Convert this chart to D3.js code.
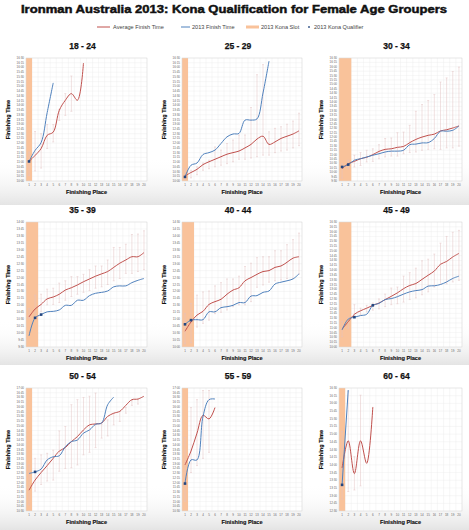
<!DOCTYPE html>
<html lang="en">
<head>
  <meta charset="UTF-8">
  <title>Ironman Australia 2013: Kona Qualification for Female Age Groupers</title>
  <script src="https://d3js.org/d3.v7.min.js"></script>
  <style>
    body { margin: 0; background: #fff; font-family: 'Liberation Sans', Arial, sans-serif; }
    svg { display: block; }
    .tick-label { font-size: 3px; fill: #666; }
    .axis-title { font-size: 5.6px; font-weight: bold; fill: #111; stroke: #111; stroke-width: 0.15px; }
    .panel-title { font-size: 8.5px; font-weight: bold; fill: #111; stroke: #111; stroke-width: 0.25px; }
  </style>
</head>
<body>
  <svg id="chart" width="469" height="530"></svg>

  <script>
    // Age groups and Kona slots per group
    const ageGroups = ["18 - 24", "25 - 29", "30 - 34", "35 - 39", "40 - 44", "45 - 49", "50 - 54", "55 - 59", "60 - 64"];
    const konaSlots = [1, 1, 2, 2, 2, 2, 1, 1, 1];
    const qualifierPlaces = [[1], [1], [1, 2], [2, 3], [1, 2], [3, 6], [2], [1], [1]];

    // y axis range per panel (finish time in minutes)
    const yMin = [600, 600, 570, 570, 600, 600, 630, 630, 750];
    const yMax = [990, 990, 990, 840, 870, 990, 1020, 1020, 990];

    // 2013 finish times by place (minutes)
    const finish2013 = [
      [662, 697, 722, 817, 911],
      [613, 650, 657, 684, 690, 698, 719, 740, 749, 751, 793, 793, 797, 879, 980],
      [618, 626, 641, 646, 652, 658, 663, 669, 672, 672, 675, 694, 696, 700, 701, 715, 740, 740, 743, 758],
      [594, 633, 640, 646, 647, 650, 660, 660, 671, 671, 681, 686, 688, 691, 700, 702, 702, 709, 714, 718],
      [649, 658, 659, 659, 676, 676, 685, 687, 690, 696, 696, 710, 711, 718, 721, 736, 740, 743, 747, 758],
      [653, 687, 693, 698, 702, 730, 736, 748, 751, 757, 765, 772, 776, 779, 790, 791, 795, 803, 814, 821],
      [749, 754, 763, 792, 802, 805, 834, 850, 855, 877, 887, 905, 909, 967, 991],
      [717, 792, 792, 930, 983, 985],
      [801, 986]
    ];

    // average finish times by place (minutes)
    const avgFinish = [
      [662, 681, 703, 745, 755, 824, 856, 877, 856, 974],
      [616, 627, 637, 652, 661, 669, 677, 685, 690, 695, 705, 716, 733, 742, 716, 724, 735, 742, 749, 759],
      [612, 629, 637, 646, 651, 660, 671, 678, 680, 685, 688, 701, 712, 720, 726, 730, 741, 745, 751, 758],
      [635, 652, 662, 674, 678, 684, 693, 698, 704, 711, 717, 723, 728, 733, 742, 751, 758, 765, 765, 774],
      [634, 654, 669, 677, 692, 698, 703, 714, 723, 728, 743, 750, 757, 763, 765, 772, 775, 783, 792, 795],
      [656, 679, 702, 713, 721, 730, 737, 748, 758, 769, 782, 792, 798, 811, 824, 837, 858, 867, 881, 892],
      [696, 728, 752, 774, 797, 820, 831, 850, 866, 887, 903, 906, 909, 930, 940, 946, 965, 983, 985, 994],
      [776, 820, 877, 933, 922, 958],
      [834, 887, 823, 887, 843, 953]
    ];

    // min / max of past finish times by place (minutes)
    const rangeHigh = [
      [692, 757, 750, 779, 779, 827, 877, 933],
      [639, 634, 645, 657, 666, 708, 698, 719, 730, 746, 746, 833, 937, 969, 756, 767, 772, 780, 790, 815],
      [629, 641, 658, 667, 675, 680, 694, 715, 717, 735, 737, 760, 808, 831, 845, 865, 908, 922, 944, 959],
      [653, 682, 684, 695, 697, 708, 713, 722, 722, 727, 737, 745, 745, 758, 785, 785, 792, 813, 814, 821],
      [672, 694, 712, 719, 721, 732, 739, 747, 747, 753, 774, 781, 793, 795, 795, 808, 808, 821, 832, 846],
      [679, 692, 732, 721, 730, 737, 750, 765, 784, 787, 821, 832, 846, 869, 874, 890, 924, 945, 958, 964],
      [776, 797, 808, 813, 823, 884, 898, 967, 983, 990, 994, 1004, 905, 919, 940, 946, 958, 980, 983],
      [863, 958, 983, 1012, 1012],
      [905, 984, 856, 976]
    ];
    const rangeLow = [
      [618, 632, 641, 703, 724, 792, 808, 821],
      [605, 610, 620, 634, 639, 645, 650, 655, 661, 669, 669, 673, 677, 682, 682, 690, 695, 698, 705, 712],
      [580, 612, 618, 623, 635, 637, 646, 652, 655, 655, 663, 667, 669, 675, 678, 680, 678, 683, 683, 689],
      [632, 635, 647, 661, 662, 666, 671, 679, 684, 688, 692, 697, 700, 705, 713, 718, 729, 729, 733, 737],
      [607, 609, 643, 651, 658, 672, 675, 680, 687, 691, 691, 698, 729, 734, 740, 743, 745, 748, 748, 757],
      [632, 658, 695, 700, 709, 715, 719, 726, 732, 735, 740, 748, 753, 763, 772, 787, 795, 797, 803, 808],
      [650, 693, 714, 725, 728, 756, 765, 767, 776, 808, 816, 831, 861, 868, 903, 914, 940, 965, 969],
      [661, 752, 774, 797, 816],
      [773, 788, 791, 799]
    ];

    const places = d3.range(1, 21);

    const red = "#c0504d", blue = "#4f81bd", slotColor = "#f9c29a", dotColor = "#23467f";

    const svg = d3.select("#chart");
    const defs = svg.append("defs");

    const grad = defs.append("linearGradient")
      .attr("id", "cellShade").attr("x1", 0).attr("y1", 0).attr("x2", 0).attr("y2", 1);
    grad.append("stop").attr("offset", "0%").attr("stop-color", "#fff").attr("stop-opacity", 0);
    grad.append("stop").attr("offset", "100%").attr("stop-color", "#e4e4e4").attr("stop-opacity", 1);

    // layout of the 3 x 3 grid
    const cellX = [0, 155, 310], cellW = [155, 155, 159];
    const cellY = [35, 205, 365], cellH = [170, 160, 165];
    const plotLeft = [26, 182, 339], plotWidth = [121, 120, 123];
    const plotTop = [58, 222, 388], plotHeight = [123, 125, 123];

    const fmt = m => Math.floor(m / 60) + ":" + d3.format("02d")(m % 60);

    // main title
    svg.append("text")
      .attr("x", 234).attr("y", 13)
      .attr("text-anchor", "middle")
      .attr("textLength", 426).attr("lengthAdjust", "spacingAndGlyphs")
      .style("font-size", "10.5px").style("font-weight", "900").style("fill", "#111")
      .style("stroke", "#111").style("stroke-width", "0.45px")
      .text("Ironman Australia 2013: Kona Qualification for Female Age Groupers");

    // legend
    const legend = svg.append("g").style("font-size", "5.6px").style("fill", "#444");
    legend.append("line").attr("x1", 97).attr("x2", 110).attr("y1", 27).attr("y2", 27)
      .attr("stroke", red).attr("stroke-width", 1);
    legend.append("text").attr("x", 113).attr("y", 29).text("Average Finish Time");
    legend.append("line").attr("x1", 181).attr("x2", 190).attr("y1", 27).attr("y2", 27)
      .attr("stroke", blue).attr("stroke-width", 1);
    legend.append("text").attr("x", 192).attr("y", 29).text("2013 Finish Time");
    legend.append("rect").attr("x", 246).attr("y", 25.5).attr("width", 13).attr("height", 3)
      .attr("fill", slotColor);
    legend.append("text").attr("x", 261).attr("y", 29).text("2013 Kona Slot");
    legend.append("rect").attr("x", 308.2).attr("y", 26.2).attr("width", 1.6).attr("height", 1.6)
      .attr("fill", dotColor);
    legend.append("text").attr("x", 314).attr("y", 29).text("2013 Kona Qualifier");

    ageGroups.forEach((group, i) => {
      const col = i % 3, row = Math.floor(i / 3);
      const L = plotLeft[col], W = plotWidth[col], T = plotTop[row], H = plotHeight[row];

      const g = svg.append("g");

      // soft shading at the foot of each cell
      g.append("rect")
        .attr("x", cellX[col]).attr("y", cellY[row] + cellH[row] * 0.72)
        .attr("width", cellW[col]).attr("height", cellH[row] * 0.28)
        .attr("fill", "url(#cellShade)");

      const x = d3.scaleLinear().domain([0.5, 20.5]).range([L, L + W]);
      const y = d3.scaleLinear().domain([yMin[i], yMax[i]]).range([T + H, T]);
      const yTicks = d3.range(yMin[i], yMax[i] + 1, 15);

      g.append("rect").attr("x", L).attr("y", T).attr("width", W).attr("height", H).attr("fill", "#fff");

      // grid
      g.selectAll(".hgrid").data(yTicks).enter().append("line")
        .attr("x1", L).attr("x2", L + W)
        .attr("y1", d => y(d)).attr("y2", d => y(d))
        .attr("stroke", "#ebebeb").attr("stroke-width", 0.4);
      g.selectAll(".vgrid").data(d3.range(0, 21)).enter().append("line")
        .attr("x1", d => x(d + 0.5)).attr("x2", d => x(d + 0.5))
        .attr("y1", T).attr("y2", T + H)
        .attr("stroke", "#ebebeb").attr("stroke-width", 0.4);

      // Kona slot band
      g.append("rect")
        .attr("x", x(0.5)).attr("y", T)
        .attr("width", x(konaSlots[i] + 0.5) - x(0.5)).attr("height", H)
        .attr("fill", slotColor);

      g.append("rect").attr("x", L).attr("y", T).attr("width", W).attr("height", H)
        .attr("fill", "none").attr("stroke", "#d9d9d9").attr("stroke-width", 0.5);

      // tick labels
      g.selectAll(".ylab").data(yTicks).enter().append("text")
        .attr("class", "tick-label")
        .attr("x", L - 2).attr("y", d => y(d) + 1)
        .attr("text-anchor", "end")
        .text(fmt);
      g.selectAll(".xlab").data(places).enter().append("text")
        .attr("class", "tick-label")
        .attr("x", d => x(d)).attr("y", T + H + 5)
        .attr("text-anchor", "middle")
        .text(d => d);

      // axis titles
      g.append("text").attr("class", "axis-title")
        .attr("x", x(10.5)).attr("y", T + H + 13)
        .attr("text-anchor", "middle")
        .text("Finishing Place");
      g.append("text").attr("class", "axis-title")
        .attr("transform", `translate(${L - 16},${T + H / 2}) rotate(-90)`)
        .attr("text-anchor", "middle")
        .text("Finishing Time");

      g.append("text").attr("class", "panel-title")
        .attr("x", L + W / 2 - 4).attr("y", T - 9)
        .attr("text-anchor", "middle")
        .text(group);

      // error bars (range of past results)
      const bars = rangeHigh[i].map((hi, k) => ({ place: k + 1, hi: hi, lo: rangeLow[i][k] }));
      const eb = g.append("g").attr("stroke", "#e2c3c3").attr("stroke-width", 0.5);
      bars.forEach(b => {
        eb.append("line").attr("x1", x(b.place)).attr("x2", x(b.place))
          .attr("y1", y(b.hi)).attr("y2", y(b.lo));
        eb.append("line").attr("x1", x(b.place) - 1).attr("x2", x(b.place) + 1)
          .attr("y1", y(b.hi)).attr("y2", y(b.hi));
        eb.append("line").attr("x1", x(b.place) - 1).attr("x2", x(b.place) + 1)
          .attr("y1", y(b.lo)).attr("y2", y(b.lo));
      });

      const clipId = "clip" + i;
      defs.append("clipPath").attr("id", clipId)
        .append("rect").attr("x", L).attr("y", T - 2).attr("width", W).attr("height", H + 2);

      const line = d3.line()
        .x((d, k) => x(k + 1))
        .y(d => y(d))
        .curve(d3.curveCatmullRom.alpha(0.5));

      g.append("path").datum(avgFinish[i])
        .attr("clip-path", `url(#${clipId})`)
        .attr("fill", "none").attr("stroke", red).attr("stroke-width", 1)
        .attr("d", line);
      g.append("path").datum(finish2013[i])
        .attr("clip-path", `url(#${clipId})`)
        .attr("fill", "none").attr("stroke", blue).attr("stroke-width", 1)
        .attr("d", line);

      g.selectAll(".qual").data(qualifierPlaces[i]).enter().append("rect")
        .attr("x", d => x(d) - 1.3).attr("y", d => y(finish2013[i][d - 1]) - 1.3)
        .attr("width", 2.6).attr("height", 2.6)
        .attr("fill", dotColor);
    });
  </script>
</body>
</html>
